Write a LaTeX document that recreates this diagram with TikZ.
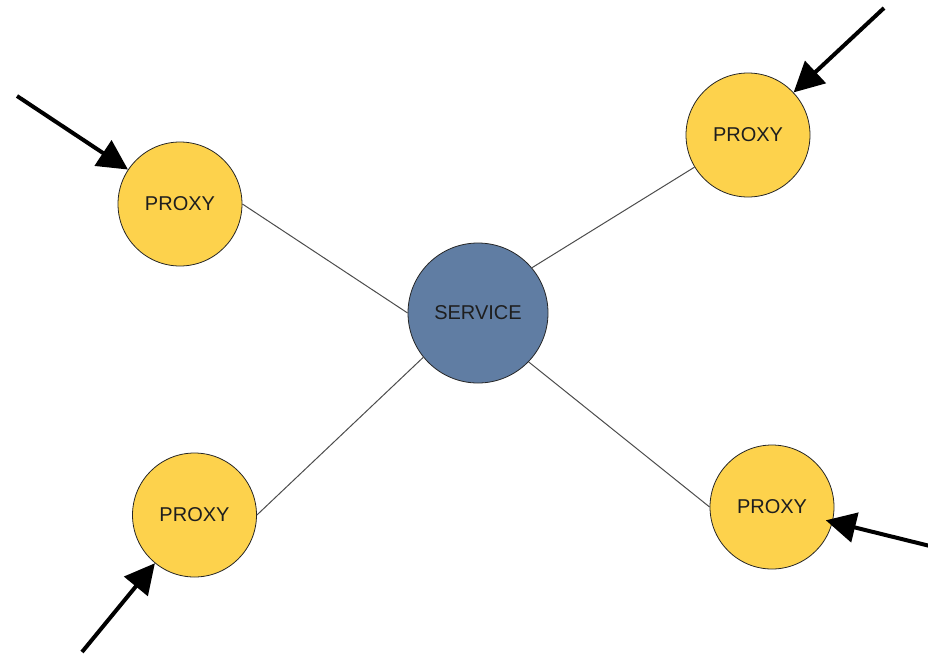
\documentclass[tikz,border=0pt]{standalone}
\usepackage{fontspec}
\setmainfont{Liberation Sans}
\usetikzlibrary{arrows.meta}
\definecolor{proxyfill}{RGB}{253,210,76}
\definecolor{servicefill}{RGB}{96,125,163}
\definecolor{txt}{RGB}{30,30,30}
\tikzset{
  proxy/.style={circle, draw=black!85, line width=0.8pt, fill=proxyfill, minimum size=124pt, inner sep=0pt, text=txt, font=\fontsize{20}{23}\selectfont},
  service/.style={circle, draw=black!85, line width=0.8pt, fill=servicefill, minimum size=140pt, inner sep=0pt, text=txt, font=\fontsize{20}{23}\selectfont},
  link/.style={draw=black!70, line width=1pt},
  inarrow/.style={draw=black, line width=4pt, -{Triangle[length=30pt,width=30pt]}}
}
\begin{document}
\begin{tikzpicture}[x=1pt,y=-1pt]
\useasboundingbox (0,0) rectangle (928,654);
\node[service] (svc) at (478,313) {SERVICE};
\node[proxy] (p1) at (180,204) {PROXY};
\node[proxy] (p2) at (748,135) {PROXY};
\node[proxy] (p3) at (194.5,515) {PROXY};
\node[proxy] (p4) at (772,507) {PROXY};
\draw[link] (p1.east) -- (svc.west);
\draw[link] (p2.211) -- (svc.40);
\draw[link] (p3.east) -- (svc.219);
\draw[link] (p4.west) -- (svc.-44);
\coordinate (t1) at (17,96);
\coordinate (t2) at (884,8);
\coordinate (t3) at (82,652);
\coordinate (t4) at (930,546);
\draw[inarrow] (t1) -- (p1);
\draw[inarrow] (t2) -- (p2);
\draw[inarrow] (t3) -- (p3);
\draw[inarrow, shorten >=-7pt] (t4) -- (p4);
\end{tikzpicture}
\end{document}
